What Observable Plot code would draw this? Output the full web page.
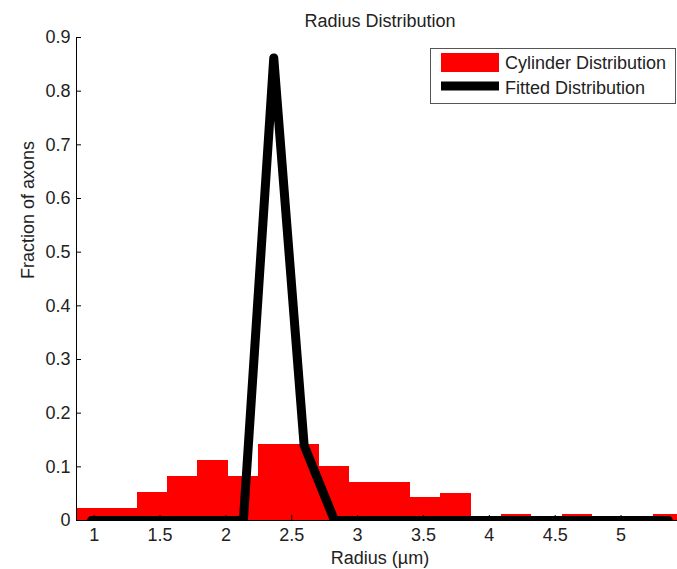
<!DOCTYPE html>
<html><head><meta charset="utf-8">
<script src="https://cdn.jsdelivr.net/npm/d3@7"></script>
<script src="https://cdn.jsdelivr.net/npm/@observablehq/plot@0.6"></script>
<style>
html,body{margin:0;padding:0;background:#fff;overflow:hidden;}
#wrap{position:relative;width:677px;height:569px;overflow:hidden;}
#legend{position:absolute;left:430px;top:48px;}
</style>
</head><body>
<div id="wrap"><div id="chart"></div><svg id="legend" width="247" height="57"></svg></div>
<script>
// Histogram bin edges (radius, µm) and fraction of axons per bin
const binEdges = [0.866, 1.096, 1.327, 1.557, 1.788, 2.018, 2.248, 2.479, 2.709, 2.940, 3.170,
                  3.400, 3.631, 3.861, 4.092, 4.322, 4.552, 4.783, 5.013, 5.244, 5.474];
const cylinderFraction = [0.023, 0.023, 0.052, 0.082, 0.112, 0.082, 0.141, 0.141, 0.101, 0.071,
                          0.071, 0.043, 0.051, 0, 0.012, 0, 0.012, 0, 0, 0.012];
// Fitted distribution, evaluated at bin centres
const fittedFraction = [0, 0, 0, 0, 0, 0, 0.862, 0.140, 0, 0,
                        0, 0, 0, 0, 0, 0, 0, 0, 0, 0];
const xTicks = [1, 1.5, 2, 2.5, 3, 3.5, 4, 4.5, 5];
const yTicks = [0, 0.1, 0.2, 0.3, 0.4, 0.5, 0.6, 0.7, 0.8, 0.9];
const titleText = "Radius Distribution";
const xLabel = "Radius (\u00b5m)";
const yLabel = "Fraction of axons";
const seriesNames = ["Cylinder Distribution", "Fitted Distribution"];
const seriesColors = ["#ff0000", "#000000"];

const bars = cylinderFraction.map((v, i) => ({x1: binEdges[i], x2: binEdges[i + 1], v}));
const fit = fittedFraction.map((v, i) => ({x: (binEdges[i] + binEdges[i + 1]) / 2, v}));

const font = "'Liberation Sans', Arial, Helvetica, sans-serif";
const ink = "#222";

const chart = Plot.plot({
  width: 677,
  height: 569,
  marginLeft: 76,
  marginRight: -6,
  marginTop: 37,
  marginBottom: 49,
  style: {fontFamily: font, fontSize: "18px", color: ink, background: "#fff"},
  x: {domain: [binEdges[0], binEdges[binEdges.length - 1]]},
  y: {domain: [0, 0.9]},
  marks: [
    Plot.rect(bars, {x1: "x1", x2: "x2", y1: 0, y2: "v", fill: seriesColors[0], shapeRendering: "crispEdges"}),
    Plot.ruleX([binEdges[0]], {stroke: "#000", strokeWidth: 1}),
    Plot.ruleY([0], {stroke: "#000", strokeWidth: 1}),
    Plot.axisX({ticks: xTicks, tickFormat: d => String(d), tickSize: -5, tickPadding: 13, label: null, fontSize: 18, fill: ink, stroke: "#000"}),
    Plot.axisY({ticks: yTicks, tickFormat: d => String(d), tickSize: -5, tickPadding: 11, label: null, fontSize: 18, fill: ink, stroke: "#000"}),
    Plot.line(fit, {x: "x", y: "v", stroke: seriesColors[1], strokeWidth: 9, strokeLinecap: "round", strokeLinejoin: "round", clip: true}),
    Plot.text([titleText], {frameAnchor: "top", dy: -11, lineAnchor: "bottom", fontSize: 18, fill: ink}),
    Plot.text([xLabel], {frameAnchor: "bottom", dy: 43, lineAnchor: "bottom", fontSize: 18, fill: ink}),
    Plot.text([yLabel], {frameAnchor: "left", dx: -43, rotate: -90, lineAnchor: "bottom", fontSize: 18, fill: ink})
  ]
});
document.getElementById("chart").appendChild(chart);

// Legend (drawn with d3)
const lg = d3.select("#legend");
lg.append("rect").attr("x", 0.5).attr("y", 0.5).attr("width", 245).attr("height", 55)
  .attr("fill", "#fff").attr("stroke", "#555").attr("stroke-width", 1);
lg.append("rect").attr("x", 11).attr("y", 5).attr("width", 58).attr("height", 19).attr("fill", seriesColors[0]);
lg.append("rect").attr("x", 11).attr("y", 33.5).attr("width", 58).attr("height", 9).attr("fill", seriesColors[1]);
lg.selectAll("text").data(seriesNames).join("text")
  .attr("x", 75).attr("y", (d, i) => 20.5 + i * 25)
  .attr("font-family", font).attr("font-size", 18).attr("fill", ink)
  .text(d => d);
</script>
</body></html>
